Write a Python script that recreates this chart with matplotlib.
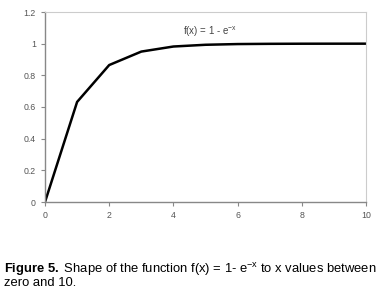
import matplotlib.pyplot as plt

# data (f(x) = 1 - e^-x at integer x)
x_vals = [0, 1, 2, 3, 4, 5, 6, 7, 8, 9, 10]
y_vals = [0, 0.632, 0.865, 0.950, 0.982, 0.993, 0.9975, 0.999, 0.9997, 0.9999, 1.0]
x_ticks = [0, 2, 4, 6, 8, 10]
y_ticks = [0, 0.2, 0.4, 0.6, 0.8, 1.0, 1.2]
y_tick_labels = ['0', '0.2', '0.4', '0.6', '0.8', '1', '1.2']

plt.rcParams['font.family'] = ['Liberation Sans', 'DejaVu Sans']
plt.rcParams['mathtext.fontset'] = 'custom'
plt.rcParams['mathtext.rm'] = 'Liberation Sans'
plt.rcParams['mathtext.it'] = 'Liberation Sans'
plt.rcParams['mathtext.bf'] = 'Liberation Sans:bold'

fig = plt.figure(figsize=(3.86, 2.95), dpi=100)
ax = fig.add_axes([45 / 386, 1 - 202 / 295, 321 / 386, 190 / 295])

ax.plot(x_vals, y_vals, color='black', linewidth=1.8)
ax.set_xlim(0, 10)
ax.set_ylim(0, 1.2)
ax.set_xticks(x_ticks)
ax.set_xticklabels([str(t) for t in x_ticks])
ax.set_yticks(y_ticks)
ax.set_yticklabels(y_tick_labels)

for side in ['top', 'right']:
    ax.spines[side].set_color('#cccccc')
    ax.spines[side].set_linewidth(0.8)
for side in ['left', 'bottom']:
    ax.spines[side].set_color('#888888')
    ax.spines[side].set_linewidth(1.0)
ax.tick_params(colors='#888888', labelcolor='#555555', labelsize=6.3, length=3, width=0.8)

ax.text(4.3, 1.075, r'f(x) = 1 - e$^{-x}$', fontsize=7, color='#444444', va='center')

fig.text(0.01, 0.087, r'$\mathbf{Figure\ 5.}$ Shape of the function f(x) = 1- e$^{-x}$ to x values between',
         fontsize=9.4, color='black', va='center')
fig.text(0.01, 0.041, 'zero and 10.', fontsize=9.4, color='black', va='center')

fig.savefig('out.png', dpi=100)
